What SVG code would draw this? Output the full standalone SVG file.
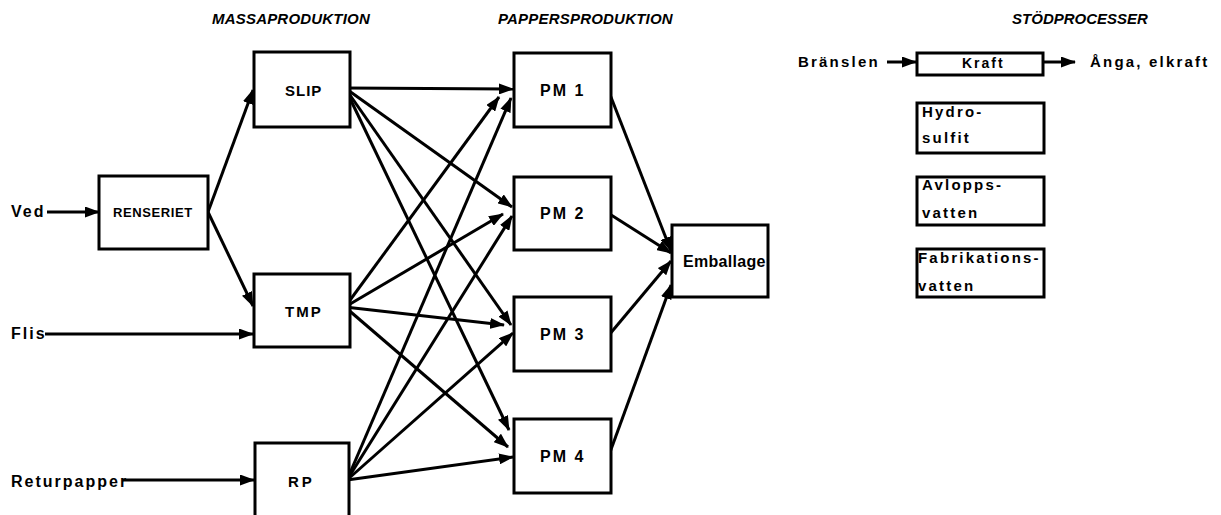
<svg xmlns="http://www.w3.org/2000/svg" width="1221" height="515" viewBox="0 0 1221 515">
<defs>
<marker id="ah" markerUnits="userSpaceOnUse" markerWidth="15" markerHeight="11" viewBox="0 0 15 11" refX="14" refY="5.5" orient="auto">
<path d="M0,0 L15,5.5 L0,11 Z" fill="#000"/>
</marker>
<style>
.box{fill:#fff;stroke:#000;stroke-width:3}
.c{fill:none;stroke:#000;stroke-width:3;marker-end:url(#ah)}
text{font-family:"Liberation Sans",Arial,sans-serif;font-weight:bold;fill:#000}
.t{font-size:15px;font-style:italic}
.s{font-size:15px}
.m{font-size:16px;letter-spacing:2px}
.b{font-size:15px;letter-spacing:2.2px}
</style>
</defs>
<rect width="1221" height="515" fill="#fff"/>
<g id="titles">
<text class="t" x="212" y="24" letter-spacing="0.2">MASSAPRODUKTION</text>
<text class="t" x="498" y="24" letter-spacing="0.2">PAPPERSPRODUKTION</text>
<text class="t" x="1080" y="24" text-anchor="middle">STÖDPROCESSER</text>
</g>
<g id="connectors">
<line class="c" x1="47" y1="212" x2="99" y2="212"/>
<line class="c" x1="45" y1="334" x2="253" y2="334"/>
<line class="c" x1="122" y1="480" x2="254" y2="480"/>
<line class="c" x1="208" y1="212" x2="253" y2="90"/>
<line class="c" x1="208" y1="212" x2="253" y2="306"/>
<line class="c" x1="345" y1="88" x2="513" y2="89"/>
<line class="c" x1="345" y1="88" x2="512" y2="207"/>
<line class="c" x1="345" y1="88" x2="511" y2="325"/>
<line class="c" x1="345" y1="88" x2="509" y2="430"/>
<line class="c" x1="345" y1="307" x2="499" y2="97"/>
<line class="c" x1="345" y1="307" x2="503" y2="214"/>
<line class="c" x1="345" y1="307" x2="504" y2="325"/>
<line class="c" x1="345" y1="307" x2="508" y2="447"/>
<line class="c" x1="347" y1="480" x2="511" y2="98"/>
<line class="c" x1="347" y1="480" x2="512" y2="216"/>
<line class="c" x1="347" y1="480" x2="513" y2="333"/>
<line class="c" x1="347" y1="480" x2="513" y2="457"/>
<line class="c" x1="609" y1="92" x2="671" y2="251"/>
<line class="c" x1="608" y1="213" x2="671" y2="253"/>
<line class="c" x1="609" y1="335" x2="671" y2="261"/>
<line class="c" x1="609" y1="455" x2="671" y2="285"/>
<line class="c" x1="887" y1="62" x2="916" y2="62"/>
<line class="c" x1="1043" y1="62" x2="1075" y2="62"/>
</g>
<g id="inputs">
<text class="m" x="11" y="217">Ved</text>
<text class="m" x="11" y="339">Flis</text>
<text class="m" x="11" y="487" letter-spacing="1.8">Returpapper</text>
</g>
<g id="renseriet">
<rect class="box" x="99" y="176" width="109" height="73"/>
<text x="113" y="217" font-size="13" letter-spacing="0.6">RENSERIET</text>
</g>
<g id="slip">
<rect class="box" x="254" y="52" width="96" height="75"/>
<text class="s" x="285" y="96" letter-spacing="1">SLIP</text>
</g>
<g id="tmp">
<rect class="box" x="254" y="274" width="96" height="73"/>
<text class="s" x="285" y="317" letter-spacing="2">TMP</text>
</g>
<g id="rp">
<rect class="box" x="255" y="443" width="94" height="80"/>
<text class="s" x="288" y="487" letter-spacing="3">RP</text>
</g>
<g id="pm1">
<rect class="box" x="514" y="53" width="97" height="74"/>
<text class="m" x="540" y="96">PM 1</text>
</g>
<g id="pm2">
<rect class="box" x="514" y="177" width="97" height="73"/>
<text class="m" x="540" y="219">PM 2</text>
</g>
<g id="pm3">
<rect class="box" x="514" y="297" width="97" height="74"/>
<text class="m" x="540" y="340">PM 3</text>
</g>
<g id="pm4">
<rect class="box" x="514" y="419" width="97" height="74"/>
<text class="m" x="540" y="462">PM 4</text>
</g>
<g id="emballage">
<rect class="box" x="672" y="225" width="96" height="72"/>
<text x="683" y="267" font-size="16" letter-spacing="0.3">Emballage</text>
</g>
<g id="kraft">
<text class="b" x="798" y="67" letter-spacing="2.5">Bränslen</text>
<rect class="box" x="917" y="53" width="126" height="22"/>
<text x="962" y="68" font-size="14" letter-spacing="2">Kraft</text>
<text class="b" x="1090" y="67">Ånga, elkraft</text>
</g>
<g id="hydrosulfit">
<rect class="box" x="917" y="103" width="127" height="50"/>
<text class="b" x="922" y="117" letter-spacing="2">Hydro-</text>
<text class="b" x="922" y="143" letter-spacing="2">sulfit</text>
</g>
<g id="avloppsvatten">
<rect class="box" x="917" y="177" width="127" height="48"/>
<text class="b" x="922" y="190" letter-spacing="2">Avlopps-</text>
<text class="b" x="922" y="218">vatten</text>
</g>
<g id="fabrikationsvatten">
<rect class="box" x="917" y="249" width="127" height="48"/>
<text class="b" x="918" y="263" letter-spacing="2.6">Fabrikations-</text>
<text class="b" x="918" y="291">vatten</text>
</g>
</svg>
